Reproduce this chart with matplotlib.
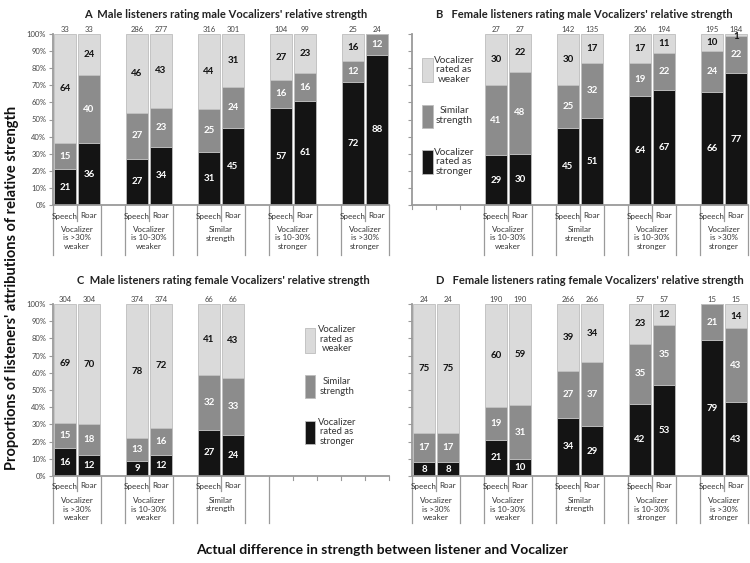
import matplotlib
matplotlib.use('Agg')
import matplotlib.pyplot as plt
from matplotlib.transforms import blended_transform_factory
from matplotlib.patches import Rectangle

plt.rcParams['font.family'] = ['Lato', 'DejaVu Sans']

# ---------------- data ----------------
group_labels = ["Vocalizer\nis >30%\nweaker", "Vocalizer\nis 10-30%\nweaker",
                "Similar\nstrength", "Vocalizer\nis 10-30%\nstronger",
                "Vocalizer\nis >30%\nstronger"]
mode_labels = ["Speech", "Roar"]
ytick_labels = ["0%", "10%", "20%", "30%", "40%", "50%", "60%", "70%", "80%", "90%", "100%"]
legend_labels = ["Vocalizer\nrated as\nweaker", "Similar\nstrength", "Vocalizer\nrated as\nstronger"]

titles = ["A  Male listeners rating male Vocalizers' relative strength",
          "B   Female listeners rating male Vocalizers' relative strength",
          "C  Male listeners rating female Vocalizers' relative strength",
          "D   Female listeners rating female Vocalizers' relative strength"]

# Panel A (groups 0-4)
a_groups = [0, 1, 2, 3, 4]
a_stronger = [21, 36, 27, 34, 31, 45, 57, 61, 72, 88]
a_similar = [15, 40, 27, 23, 25, 24, 16, 16, 12, 12]
a_weaker = [64, 24, 46, 43, 44, 31, 27, 23, 16, 0]
a_n = [33, 33, 286, 277, 316, 301, 104, 99, 25, 24]

# Panel B (groups 1-4)
b_groups = [1, 2, 3, 4]
b_stronger = [29, 30, 45, 51, 64, 67, 66, 77]
b_similar = [41, 48, 25, 32, 19, 22, 24, 22]
b_weaker = [30, 22, 30, 17, 17, 11, 10, 1]
b_n = [27, 27, 142, 135, 206, 194, 195, 184]

# Panel C (groups 0-2)
c_groups = [0, 1, 2]
c_stronger = [16, 12, 9, 12, 27, 24]
c_similar = [15, 18, 13, 16, 32, 33]
c_weaker = [69, 70, 78, 72, 41, 43]
c_n = [304, 304, 374, 374, 66, 66]

# Panel D (groups 0-4)
d_groups = [0, 1, 2, 3, 4]
d_stronger = [8, 8, 21, 10, 34, 29, 42, 53, 79, 43]
d_similar = [17, 17, 19, 31, 27, 37, 35, 35, 21, 43]
d_weaker = [75, 75, 60, 59, 39, 34, 23, 12, 0, 14]
d_n = [24, 24, 190, 190, 266, 266, 57, 57, 15, 15]

# ---------------- style ----------------
C_WEAK = '#DADADA'
C_SIM = '#8C8C8C'
C_STRONG = '#141414'
EDGE = '#BDBDBD'
AXC = '#9A9A9A'
W, H = 750, 563

fig = plt.figure(figsize=(7.5, 5.63), dpi=100)


def fx(x):
    return x / W


def fy(y):
    return 1 - y / H


def make_axes(x0, x1, y0, y1):
    return fig.add_axes([fx(x0), fy(y1), fx(x1) - fx(x0), fy(y0) - fy(y1)])


def draw_panel(ax, groups, stronger, similar, weaker, ns, show_labels, cat_y):
    ax.set_xlim(0, 14)
    ax.set_ylim(0, 100)
    for s in ['top', 'right']:
        ax.spines[s].set_visible(False)
    for s in ['left', 'bottom']:
        ax.spines[s].set_color(AXC)
        ax.spines[s].set_linewidth(1.3)
    ax.set_yticks(range(0, 101, 10))
    if show_labels:
        ax.set_yticklabels(ytick_labels, fontsize=5.5, color='#444444')
    else:
        ax.set_yticklabels([])
    ax.tick_params(axis='y', length=3, color=AXC, width=0.8, pad=2)
    ax.set_xticks([])
    ax.patch.set_alpha(0)

    xs = []
    for g in groups:
        for m in range(2):
            xs.append(3 * g + m + 0.5)
    bw = 0.95
    ax.bar(xs, stronger, width=bw, color=C_STRONG, edgecolor=EDGE, linewidth=0.6)
    bot2 = stronger
    ax.bar(xs, similar, width=bw, bottom=bot2, color=C_SIM, edgecolor=EDGE, linewidth=0.6)
    bot3 = [a + b for a, b in zip(stronger, similar)]
    ax.bar(xs, weaker, width=bw, bottom=bot3, color=C_WEAK, edgecolor=EDGE, linewidth=0.6)

    for i, x in enumerate(xs):
        segs = [(stronger[i], 0, 'white'), (similar[i], stronger[i], 'white'),
                (weaker[i], bot3[i], '#111111')]
        for v, b, col in segs:
            if v > 0:
                yc = b + v / 2
                if v < 3:
                    yc = b + v - 1.5
                ax.text(x, yc, str(v), ha='center', va='center', fontsize=7,
                        fontweight='bold', color=col)
        ax.text(x, 100.8, str(ns[i]), ha='center', va='bottom', fontsize=5.5, color='#444444')

    # category axis tiers
    tr = blended_transform_factory(ax.transData, fig.transFigure)
    y_axis, y_mode, y_short, y_grp, y_long = cat_y
    for b in range(0, 15):
        g = b // 3
        r = b % 3
        in_data = False
        long_line = False
        if r == 0 and g in groups:
            in_data, long_line = True, True
        elif r == 1 and g in groups:
            in_data, long_line = True, False
        elif r == 2 and g in groups:
            in_data, long_line = True, True
        elif r == 0 and (g - 1) in groups and b > 0:
            in_data, long_line = True, True
        if in_data:
            yb = y_long if long_line else y_short
            ax.plot([b, b], [fy(y_axis), fy(yb)], transform=tr, color=AXC,
                    lw=0.9, clip_on=False)
        else:
            ax.plot([b, b], [fy(y_axis), fy(y_axis + 4)], transform=tr, color=AXC,
                    lw=0.8, clip_on=False)
    for g in groups:
        for m in range(2):
            ax.text(3 * g + m + 0.5, fy(y_mode), mode_labels[m], transform=tr,
                    ha='center', va='center', fontsize=5.8, color='#333333')
        ax.text(3 * g + 1, fy(y_grp), group_labels[g], transform=tr, ha='center',
                va='top', fontsize=5.8, color='#333333', linespacing=1.25)


axA = make_axes(53, 389, 34, 205)
axB = make_axes(412, 748, 34, 205)
axC = make_axes(53, 389, 304, 476)
axD = make_axes(412, 748, 304, 476)

top_cat = (205, 216, 221, 226, 255)
bot_cat = (476, 486, 491, 497, 523)
draw_panel(axA, a_groups, a_stronger, a_similar, a_weaker, a_n, True, top_cat)
draw_panel(axB, b_groups, b_stronger, b_similar, b_weaker, b_n, False, top_cat)
draw_panel(axC, c_groups, c_stronger, c_similar, c_weaker, c_n, True, bot_cat)
draw_panel(axD, d_groups, d_stronger, d_similar, d_weaker, d_n, False, bot_cat)

# titles
tfs = 8
fig.text(fx(226), fy(15), titles[0], ha='center', va='center', fontsize=tfs, fontweight='bold', color='#222222')
fig.text(fx(584), fy(15), titles[1], ha='center', va='center', fontsize=tfs, fontweight='bold', color='#222222')
fig.text(fx(223), fy(280), titles[2], ha='center', va='center', fontsize=tfs, fontweight='bold', color='#222222')
fig.text(fx(590), fy(280), titles[3], ha='center', va='center', fontsize=tfs, fontweight='bold', color='#222222')


# legends
def legend(px0, px1, tx, boxes, fs):
    cols = [C_WEAK, C_SIM, C_STRONG]
    for (y0, y1, ty), col, lab in zip(boxes, cols, legend_labels):
        fig.patches.append(Rectangle((fx(px0), fy(y1)), fx(px1) - fx(px0), fy(y0) - fy(y1),
                                     transform=fig.transFigure, facecolor=col,
                                     edgecolor=EDGE, linewidth=0.6))
        fig.text(fx(tx), fy(ty), lab, ha='center', va='center', fontsize=fs,
                 color='#333333', linespacing=1.1)


legend(422, 433, 454, [(58, 82, 70), (105, 128, 115.5), (150, 174, 162)], 7.2)
legend(305, 315, 337, [(328, 353, 339), (375, 398, 386.5), (421, 444, 432)], 6.8)

# axis titles
fig.text(fx(12), fy(288), "Proportions of listeners' attributions of relative strength",
         rotation=90, ha='center', va='center', fontsize=10.5, fontweight='bold', color='#111111')
fig.text(fx(382), fy(550), "Actual difference in strength between listener and Vocalizer",
         ha='center', va='center', fontsize=10, fontweight='bold', color='#111111')

fig.savefig('out.png', dpi=100)
